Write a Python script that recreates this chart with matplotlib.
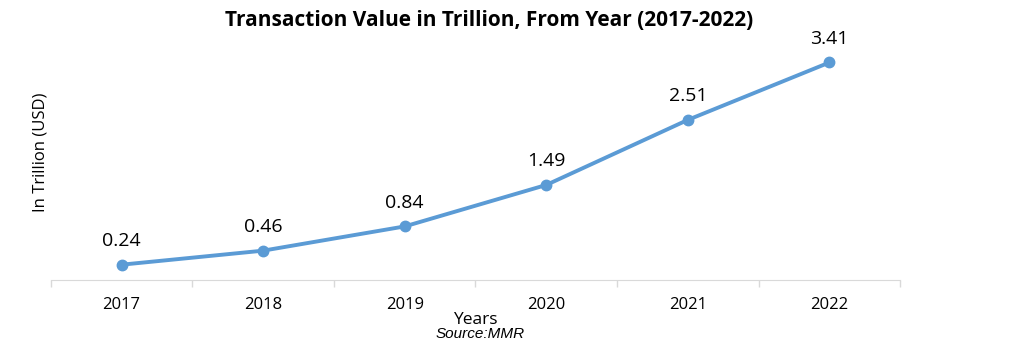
import matplotlib
matplotlib.use("Agg")
import matplotlib.pyplot as plt

years = ["2017", "2018", "2019", "2020", "2021", "2022"]
values = [0.24, 0.46, 0.84, 1.49, 2.51, 3.41]
labels = ["0.24", "0.46", "0.84", "1.49", "2.51", "3.41"]

plt.rcParams['font.family'] = ['Open Sans', 'DejaVu Sans']

fig = plt.figure(figsize=(10.16, 3.5), dpi=100)
ax = fig.add_axes([0.050, 0.2, 0.836, 0.729])

x = list(range(len(years)))
ax.plot(x, values, color='#5B9BD5', linewidth=2.8, marker='o', markersize=7.5, zorder=3)
for xi, v, lab in zip(x, values, labels):
    ax.annotate(lab, (xi, v), xytext=(0, 17), textcoords='offset points',
                ha='center', va='center', fontsize=14, color='#000000')

ax.set_xlim(-0.5, len(years) - 0.5)
ax.set_ylim(0, 4)
ax.set_yticks([])
ax.set_xticks(x)
ax.set_xticklabels(years, fontsize=12)
ax.set_xticks([i - 0.5 for i in range(len(years) + 1)], minor=True)
ax.tick_params(axis='x', which='major', length=0, pad=12)
ax.tick_params(axis='x', which='minor', length=5, color='#d9d9d9', width=1)
for s in ['top', 'right', 'left']:
    ax.spines[s].set_visible(False)
ax.spines['bottom'].set_color('#d9d9d9')

ax.set_ylabel("In Trillion (USD)", fontsize=12, labelpad=2)
fig.text(0.4675, 0.085, "Years", ha='center', va='center', fontsize=12.5)
fig.text(0.4725, 0.045, "Source:MMR", ha='center', va='center', fontsize=11,
         style='italic', family=['Liberation Sans', 'DejaVu Sans'])
fig.text(0.481, 0.94, "Transaction Value in Trillion, From Year (2017-2022)",
         ha='center', va='center', fontsize=15, fontweight='bold')

fig.savefig("out.png", dpi=100)
